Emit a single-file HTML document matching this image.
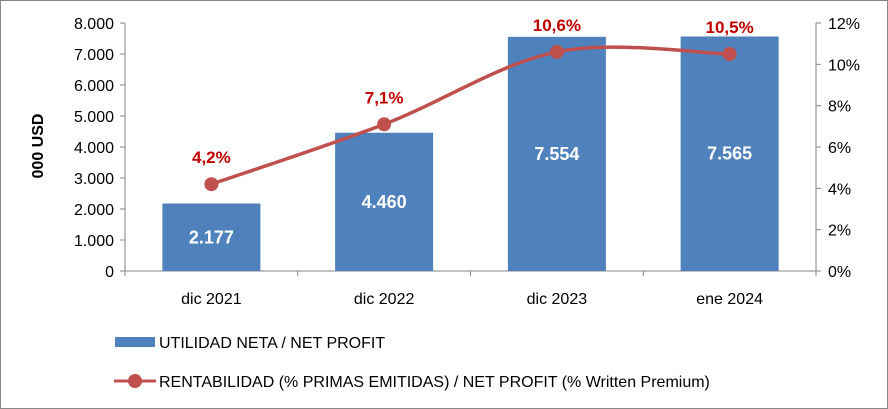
<!DOCTYPE html>
<html><head><meta charset="utf-8"><style>
body{margin:0;background:#fff;}
svg{display:block;font-family:"Liberation Sans",sans-serif;}
</style></head><body>
<svg id="chart" width="888" height="409">
<rect x="0.5" y="0.5" width="887" height="408" fill="#fff" stroke="#888"/>
<g id="g"></g>
<text x="43" y="146" transform="rotate(-90 43 146)" text-anchor="middle" font-size="16" font-weight="bold">000 USD</text>
<rect x="115" y="337" width="40" height="10" fill="#4F81BD"/>
<text x="159" y="348" font-size="16" fill="#000">UTILIDAD NETA / NET PROFIT</text>
<line x1="114" y1="381" x2="156" y2="381" stroke="#C0504D" stroke-width="3"/>
<circle cx="135" cy="381" r="7" fill="#C0504D"/>
<text x="159" y="387" font-size="16" fill="#000">RENTABILIDAD (% PRIMAS EMITIDAS) / NET PROFIT (% Written Premium)</text>
</svg>
<script>
const categories=["dic 2021","dic 2022","dic 2023","ene 2024"];
const profit=[2177,4460,7554,7565];
const profitLabels=["2.177","4.460","7.554","7.565"];
const pct=[4.2,7.1,10.6,10.5];
const pctLabels=["4,2%","7,1%","10,6%","10,5%"];
const leftTicks=["0","1.000","2.000","3.000","4.000","5.000","6.000","7.000","8.000"];
const rightTicks=["0%","2%","4%","6%","8%","10%","12%"];
const X0=125,X1=816,Y0=271,Y1=23;
const yL=v=>Y0-(v/8000)*(Y0-Y1);
const yR=v=>Y0-(v/12)*(Y0-Y1);
const bw=(X1-X0)/categories.length;
const xc=i=>X0+bw*(i+0.5);
const g=document.getElementById('g');
const NS="http://www.w3.org/2000/svg";
function mk(t,a){const e=document.createElementNS(NS,t);for(const k in a)e.setAttribute(k,a[k]);g.appendChild(e);return e;}
let e;
e=mk('line',{x1:X0,y1:Y1,x2:X0,y2:Y0,stroke:'#868686'});


e=mk('line',{x1:X1,y1:Y1,x2:X1,y2:Y0,stroke:'#868686'});


e=mk('line',{x1:X0,y1:Y0,x2:X1,y2:Y0,stroke:'#868686'});


leftTicks.forEach((t,i)=>{const y=yL(i*1000);
 mk('line',{x1:X0-5,y1:y,x2:X0,y2:y,stroke:'#868686'});
 e=mk('text',{x:X0-11,y:y+6,'text-anchor':'end','font-size':16});e.textContent=t;
 
 });
rightTicks.forEach((t,i)=>{const y=yR(i*2);
 mk('line',{x1:X1,y1:y,x2:X1+5,y2:y,stroke:'#868686'});
 e=mk('text',{x:X1+12,y:y+6,'font-size':16});e.textContent=t;
 
 });
for(let i=0;i<=categories.length;i++){const x=X0+bw*i;mk('line',{x1:x,y1:Y0,x2:x,y2:Y0+5,stroke:'#868686'});}
categories.forEach((c,i)=>{
 e=mk('rect',{x:xc(i)-49,y:yL(profit[i]),width:98,height:Y0-yL(profit[i]),fill:'#4F81BD'});
 
 
 e=mk('text',{x:xc(i),y:(yL(profit[i])+Y0)/2+6,'text-anchor':'middle','font-size':18,'font-weight':'bold',fill:'#fff'});e.textContent=profitLabels[i];
 
 
 e=mk('text',{x:xc(i),y:Y0+33,'text-anchor':'middle','font-size':16});e.textContent=c;
 
 
});
const pts=pct.map((v,i)=>[xc(i),yR(v)]);
let d='M'+pts[0][0]+','+pts[0][1];
for(let i=0;i<pts.length-1;i++){const p0=pts[Math.max(0,i-1)],p1=pts[i],p2=pts[i+1],p3=pts[Math.min(pts.length-1,i+2)];const t=1/6;
 d+=` C${p1[0]+(p2[0]-p0[0])*t},${p1[1]+(p2[1]-p0[1])*t} ${p2[0]-(p3[0]-p1[0])*t},${p2[1]-(p3[1]-p1[1])*t} ${p2[0]},${p2[1]}`;}
e=mk('path',{d:d,fill:'none',stroke:'#C0504D','stroke-width':3.5});


pts.forEach((p,i)=>{
 e=mk('circle',{cx:p[0],cy:p[1],r:7,fill:'#C0504D'});
 
 
 e=mk('text',{x:p[0],y:p[1]-21,'text-anchor':'middle','font-size':17,'font-weight':'bold',fill:'#C00000'});e.textContent=pctLabels[i];
 
 
});
</script>
</body></html>
